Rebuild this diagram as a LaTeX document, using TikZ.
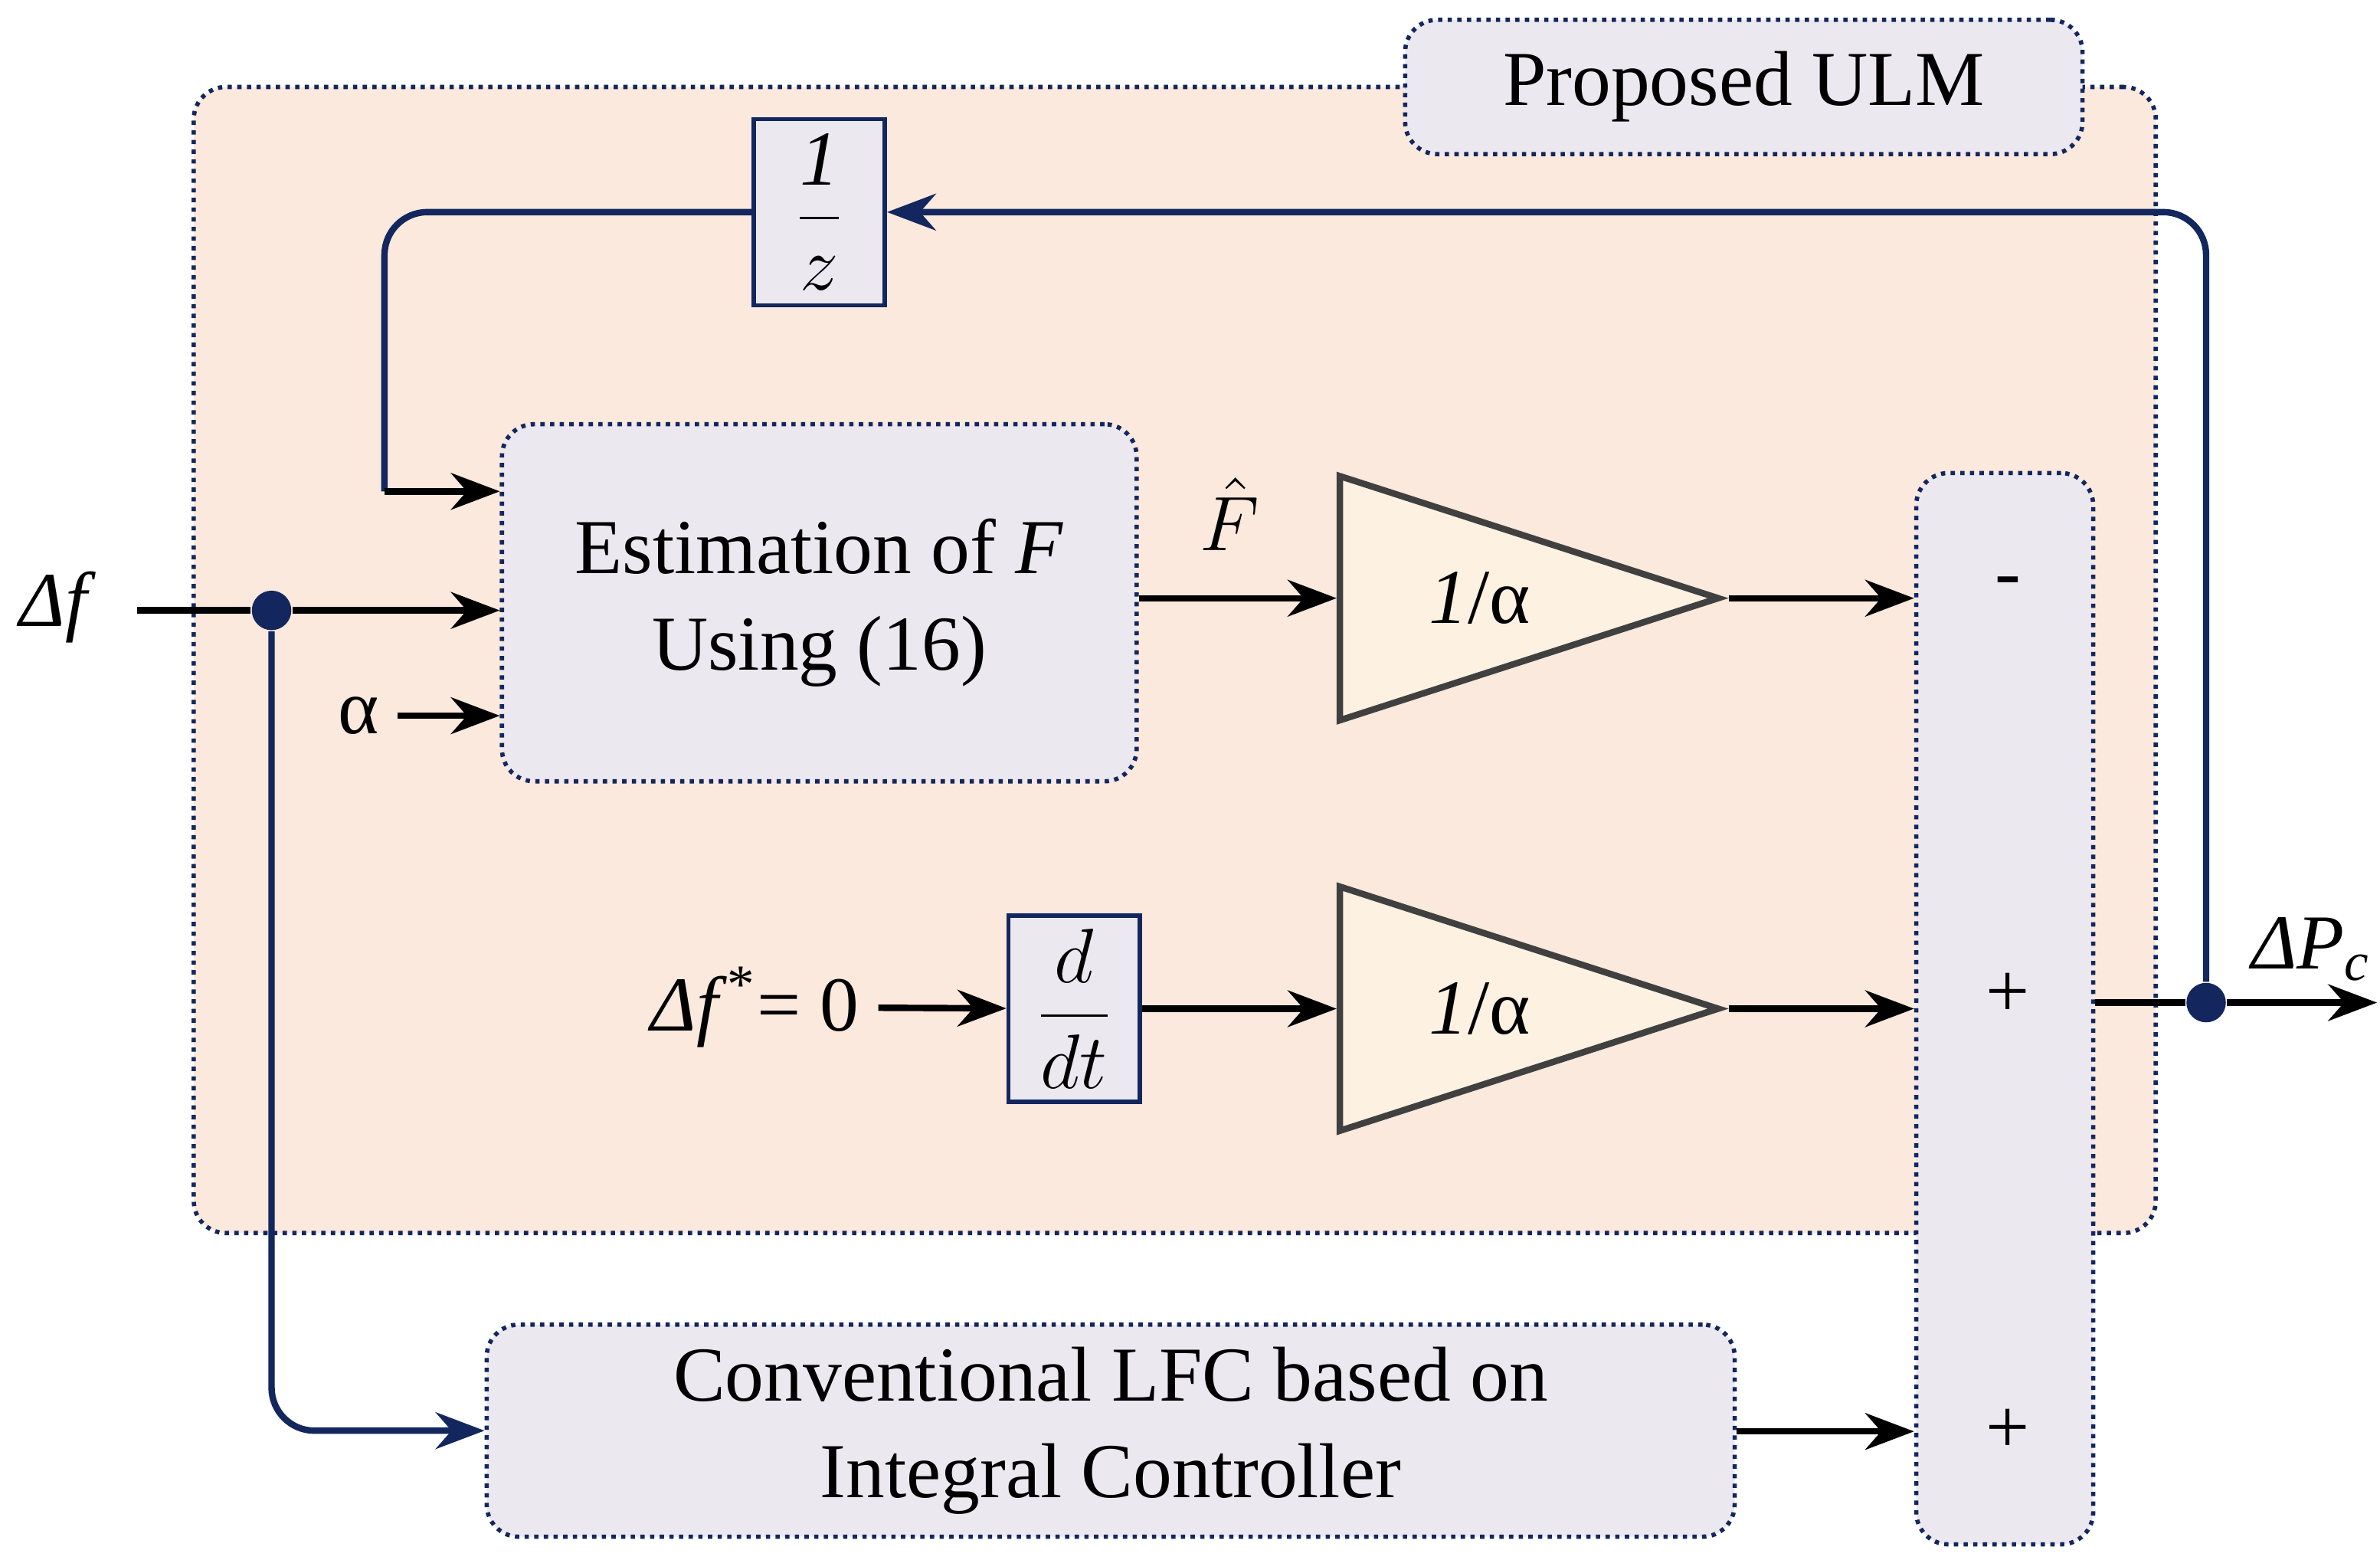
\documentclass[tikz,border=0pt]{standalone}
\usepackage{fontspec}
\setmainfont{Liberation Serif}
\usetikzlibrary{arrows.meta,shapes.geometric}
\definecolor{navy}{HTML}{13275E}
\definecolor{peach}{HTML}{FAE9DC}
\definecolor{lav}{HTML}{ECE8F0}
\definecolor{tri}{HTML}{FDF1E2}
\tikzset{
  blk/.style={draw=navy,densely dotted,thick,fill=lav,rounded corners=6pt},
  sq/.style={draw=navy,thick,fill=lav},
  gain/.style={draw=black!75,very thick,fill=tri,isosceles triangle,isosceles triangle apex angle=36,isosceles triangle stretches,minimum height=2.48cm,minimum width=1.6cm,inner sep=0pt,anchor=apex},
  sig/.style={-{Stealth[length=3.2mm,width=2.4mm]},very thick},
  fb/.style={-{Stealth[length=3.2mm,width=2.4mm]},very thick,navy,rounded corners=8pt},
  dot/.style={circle,fill=navy,inner sep=2.6pt}
}
\begin{document}
\begin{tikzpicture}[font=\fontsize{14.5}{18}\selectfont]
 \useasboundingbox (0,0) rectangle (15.6,10.22);
 % frame of the proposed method
 \node[draw=navy,densely dotted,thick,fill=peach,rounded corners=6pt,minimum width=12.86cm,minimum height=7.51cm] (ulm) at (7.70,5.895) {};
 \node[blk,minimum width=4.44cm,minimum height=0.88cm] (title) at (11.43,9.65) {Proposed ULM};

 \node[sq,minimum width=0.86cm,minimum height=1.22cm,inner sep=0pt] (z) at (5.37,8.83) {$\displaystyle\frac{\mathit{1}}{z}$};
 \node[blk,minimum width=4.16cm,minimum height=2.34cm,align=center] (est) at (5.37,6.27) {Estimation of \textit{F}\\Using (16)};
 \node[gain] (g1) at (11.33,6.30) {};
 \node at (9.70,6.30) {\textit{1}/α};
 \node[sq,minimum width=0.86cm,minimum height=1.22cm,inner sep=0pt] (dt) at (7.04,3.61) {$\displaystyle\frac{d}{dt}$};
 \node[gain] (g2) at (11.33,3.61) {};
 \node at (9.70,3.61) {\textit{1}/α};
 \node[blk,minimum width=1.16cm,minimum height=7.02cm] (sum) at (13.14,3.61) {};
 \node at (13.16,6.37) {-};
 \node at (13.16,3.70) {+};
 \node at (13.16,0.84) {+};
 \node[blk,minimum width=8.18cm,minimum height=1.39cm,align=center] (lfc) at (7.28,0.845) {Conventional LFC based on\\Integral Controller};

 % inputs and labels
 \node (df) at (0.38,6.24) {\textit{Δf}};
 \coordinate (dfin) at (0.90,6.22);
 \node[dot] (split) at (1.78,6.22) {};
 \node (al) at (2.35,5.53) {α};
 \node (fhat) at (8.06,6.85) {$\hat{F}$};
 \node (ref) at (4.95,3.62) {\textit{Δf}\textsuperscript{*}= 0};
 \node[dot] (tap) at (14.46,3.65) {};
 \coordinate (out) at (15.58,3.65);
 \node (dp) at (15.15,4.00) {\textit{ΔP\textsubscript{c}}};

 % signal paths
 \draw[very thick] (dfin) -- (split);
 \draw[sig] (split) -- (est.west |- split);
 \draw[sig] (al) -- (est.west |- al);
 \draw[sig] (est.east |- g1.apex) -- (g1.west |- g1.apex);
 \draw[sig] (g1.apex) -- (sum.west |- g1.apex);
 \draw[sig] (ref) -- (dt);
 \draw[sig] (dt) -- (g2.west |- g2.apex);
 \draw[sig] (g2.apex) -- (sum.west |- g2.apex);
 \draw[sig] (lfc.east |- 0,0.84) -- (sum.west |- 0,0.84);
 \draw[very thick] (sum.east |- tap) -- (tap);
 \draw[sig] (tap) -- (out);
 % feedback paths
 \draw[fb] (split) |- (lfc.west);
 \draw[fb] (tap) |- (z.east);
 \draw[very thick,navy,rounded corners=8pt] (z.west) -| (2.52,7.00);
 \draw[sig] (2.52,7.00) -- (est.west |- 0,7.00);
\end{tikzpicture}
\end{document}
